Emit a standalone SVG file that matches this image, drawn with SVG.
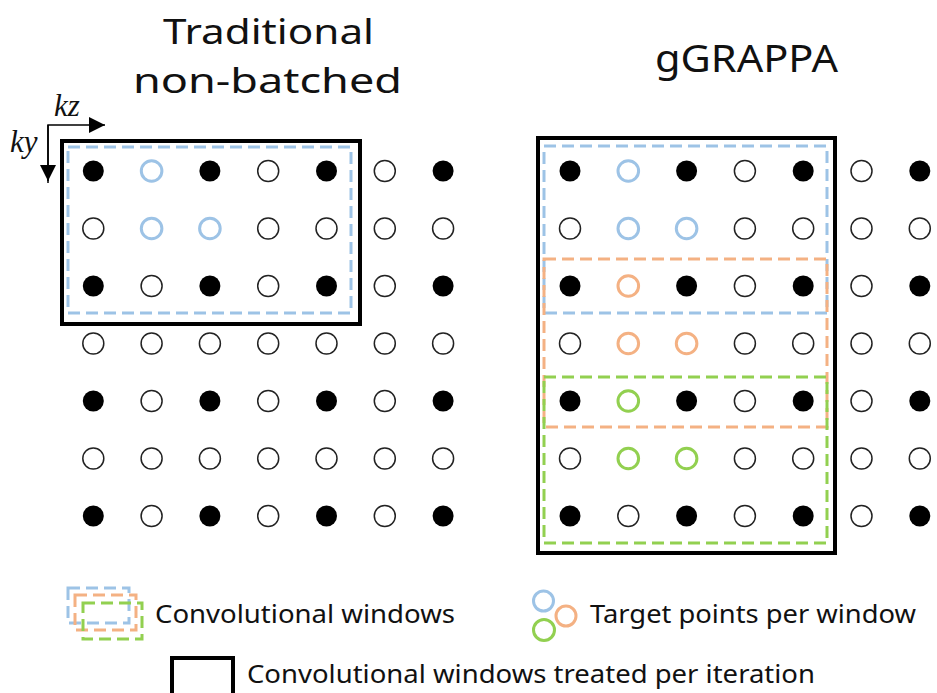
<svg xmlns="http://www.w3.org/2000/svg" width="937" height="693" viewBox="0 0 937 693">
<style>
.t{font-family:"Noto Sans","Open Sans",sans-serif;fill:#111;}
.title{font-size:35px;text-anchor:middle;}
.leg{font-size:25px;}
.m{font-family:"Liberation Serif",serif;font-style:italic;font-size:31px;fill:#111;}
.f{fill:#000;}
.o{fill:#fff;stroke:#222;stroke-width:1.5;}
.cb{fill:#fff;stroke:#9DC3E6;stroke-width:3;}
.co{fill:#fff;stroke:#F4B183;stroke-width:3;}
.cg{fill:#fff;stroke:#92D050;stroke-width:3;}
.box{fill:none;stroke:#000;stroke-width:4;}
.db{fill:none;stroke:#9DC3E6;stroke-width:3;stroke-dasharray:12 6;}
.do{fill:none;stroke:#F4B183;stroke-width:3;stroke-dasharray:12 6;}
.dg{fill:none;stroke:#92D050;stroke-width:3;stroke-dasharray:12 6;}
.ax{stroke:#000;stroke-width:1.5;fill:none;}
</style>
<defs>
<marker id="ah" viewBox="0 0 10 10" refX="10" refY="5" markerWidth="16" markerHeight="16" markerUnits="userSpaceOnUse" orient="auto">
<path d="M0,0 L10,5 L0,10 Z" fill="#000"/>
</marker>
<circle id="F" r="10.5" class="f"/>
<circle id="O" r="10.5" class="o"/>
</defs>

<text class="t title" x="268.5" y="44" textLength="211" lengthAdjust="spacingAndGlyphs">Traditional</text>
<text class="t title" x="267.5" y="92.5" textLength="269" lengthAdjust="spacingAndGlyphs">non-batched</text>
<text class="t title" x="746.5" y="72" textLength="183" lengthAdjust="spacingAndGlyphs" style="font-size:38px">gGRAPPA</text>

<g id="axes">
<path class="ax" d="M48,183 V125 H105" marker-end="url(#ah)"/>
<path class="ax" d="M48,125 V181" marker-end="url(#ah)"/>
<text class="m" x="54" y="116">kz</text>
<text class="m" x="10" y="152">ky</text>
</g>

<g id="left-grid">
<g id="L-row0" transform="translate(0,171)"><use href="#F" x="93.3"/><circle cx="151.6" r="10.3" class="cb"/><use href="#F" x="209.9"/><use href="#O" x="268.2"/><use href="#F" x="326.5"/><use href="#O" x="384.8"/><use href="#F" x="443.1"/></g>
<g id="L-row1" transform="translate(0,228.5)"><use href="#O" x="93.3"/><circle cx="151.6" r="10.3" class="cb"/><circle cx="209.9" r="10.3" class="cb"/><use href="#O" x="268.2"/><use href="#O" x="326.5"/><use href="#O" x="384.8"/><use href="#O" x="443.1"/></g>
<g id="L-row2" transform="translate(0,286)"><use href="#F" x="93.3"/><use href="#O" x="151.6"/><use href="#F" x="209.9"/><use href="#O" x="268.2"/><use href="#F" x="326.5"/><use href="#O" x="384.8"/><use href="#F" x="443.1"/></g>
<g id="L-row3" transform="translate(0,343.5)"><use href="#O" x="93.3"/><use href="#O" x="151.6"/><use href="#O" x="209.9"/><use href="#O" x="268.2"/><use href="#O" x="326.5"/><use href="#O" x="384.8"/><use href="#O" x="443.1"/></g>
<g id="L-row4" transform="translate(0,401)"><use href="#F" x="93.3"/><use href="#O" x="151.6"/><use href="#F" x="209.9"/><use href="#O" x="268.2"/><use href="#F" x="326.5"/><use href="#O" x="384.8"/><use href="#F" x="443.1"/></g>
<g id="L-row5" transform="translate(0,458.5)"><use href="#O" x="93.3"/><use href="#O" x="151.6"/><use href="#O" x="209.9"/><use href="#O" x="268.2"/><use href="#O" x="326.5"/><use href="#O" x="384.8"/><use href="#O" x="443.1"/></g>
<g id="L-row6" transform="translate(0,516)"><use href="#F" x="93.3"/><use href="#O" x="151.6"/><use href="#F" x="209.9"/><use href="#O" x="268.2"/><use href="#F" x="326.5"/><use href="#O" x="384.8"/><use href="#F" x="443.1"/></g>
</g>
<g id="left-windows">
<rect class="box" x="62" y="141" width="298" height="183"/>
<rect class="db" x="68" y="147" width="283" height="166"/>
</g>

<g id="right-grid">
<g id="R-row0" transform="translate(0,171)"><use href="#F" x="570"/><circle cx="628.3" r="10.3" class="cb"/><use href="#F" x="686.6"/><use href="#O" x="744.9"/><use href="#F" x="803.2"/><use href="#O" x="861.5"/><use href="#F" x="919.8"/></g>
<g id="R-row1" transform="translate(0,228.5)"><use href="#O" x="570"/><circle cx="628.3" r="10.3" class="cb"/><circle cx="686.6" r="10.3" class="cb"/><use href="#O" x="744.9"/><use href="#O" x="803.2"/><use href="#O" x="861.5"/><use href="#O" x="919.8"/></g>
<g id="R-row2" transform="translate(0,286)"><use href="#F" x="570"/><circle cx="628.3" r="10.3" class="co"/><use href="#F" x="686.6"/><use href="#O" x="744.9"/><use href="#F" x="803.2"/><use href="#O" x="861.5"/><use href="#F" x="919.8"/></g>
<g id="R-row3" transform="translate(0,343.5)"><use href="#O" x="570"/><circle cx="628.3" r="10.3" class="co"/><circle cx="686.6" r="10.3" class="co"/><use href="#O" x="744.9"/><use href="#O" x="803.2"/><use href="#O" x="861.5"/><use href="#O" x="919.8"/></g>
<g id="R-row4" transform="translate(0,401)"><use href="#F" x="570"/><circle cx="628.3" r="10.3" class="cg"/><use href="#F" x="686.6"/><use href="#O" x="744.9"/><use href="#F" x="803.2"/><use href="#O" x="861.5"/><use href="#F" x="919.8"/></g>
<g id="R-row5" transform="translate(0,458.5)"><use href="#O" x="570"/><circle cx="628.3" r="10.3" class="cg"/><circle cx="686.6" r="10.3" class="cg"/><use href="#O" x="744.9"/><use href="#O" x="803.2"/><use href="#O" x="861.5"/><use href="#O" x="919.8"/></g>
<g id="R-row6" transform="translate(0,516)"><use href="#F" x="570"/><use href="#O" x="628.3"/><use href="#F" x="686.6"/><use href="#O" x="744.9"/><use href="#F" x="803.2"/><use href="#O" x="861.5"/><use href="#F" x="919.8"/></g>
</g>
<g id="right-windows">
<rect class="box" x="538" y="138" width="297" height="415"/>
<rect class="db" x="544" y="146" width="283" height="167"/>
<rect class="do" x="544" y="259" width="283" height="168"/>
<rect class="dg" x="544" y="377" width="283" height="166"/>
</g>

<g id="legend-windows">
<rect class="db" x="68" y="588" width="61" height="35"/>
<rect class="do" x="75" y="595" width="61" height="35"/>
<rect class="dg" x="83" y="603" width="59" height="36"/>
<text class="t leg" x="155" y="623" textLength="300" lengthAdjust="spacingAndGlyphs">Convolutional windows</text>
</g>
<g id="legend-targets">
<circle cx="543.5" cy="601" r="10" class="cb"/>
<circle cx="566" cy="616" r="10" class="co"/>
<circle cx="544" cy="630" r="10.5" class="cg"/>
<text class="t leg" x="590" y="623" textLength="326" lengthAdjust="spacingAndGlyphs">Target points per window</text>
</g>
<g id="legend-iteration">
<rect class="box" x="172" y="658" width="61" height="45"/>
<text class="t leg" x="247" y="683" textLength="568" lengthAdjust="spacingAndGlyphs">Convolutional windows treated per iteration</text>
</g>
</svg>
